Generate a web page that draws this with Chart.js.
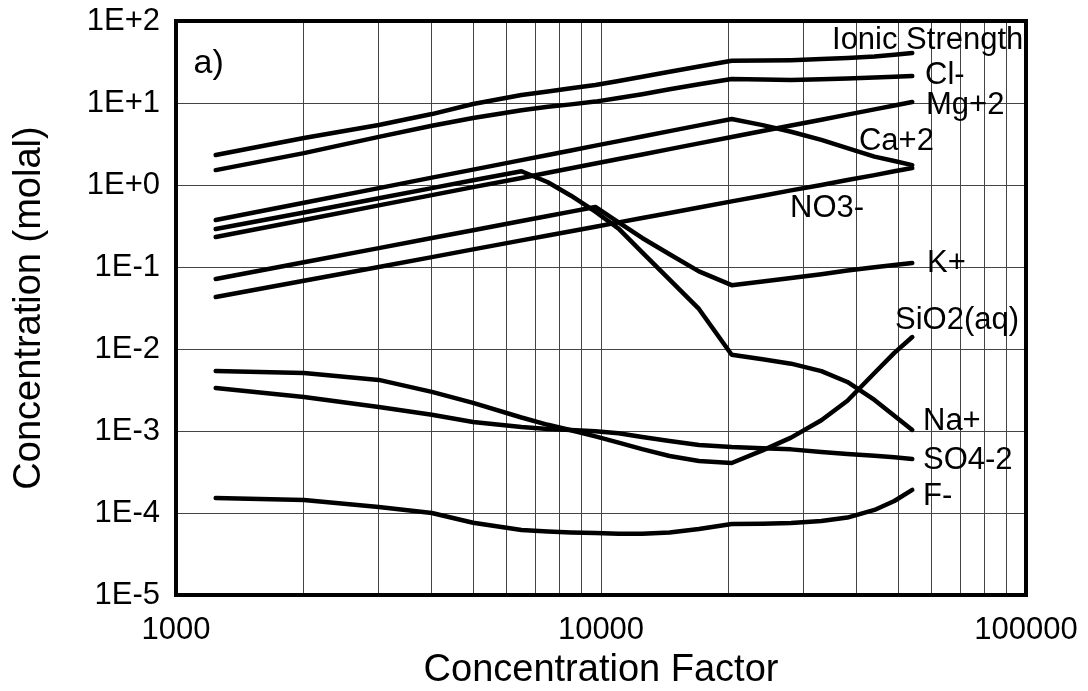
<!DOCTYPE html>
<html>
<head>
<meta charset="utf-8">
<title>Concentration vs Concentration Factor</title>
<script src="https://cdn.jsdelivr.net/npm/chart.js@4.4.1/dist/chart.umd.min.js"></script>
<style>
  html, body { margin: 0; padding: 0; background: #fff; }
  #wrap { width: 1088px; height: 691px; }
</style>
</head>
<body>
<div id="wrap"><canvas id="chart" width="1088" height="691"></canvas></div>
<script>
// concentration factor (x) shared by every curve
const cf = [1240, 2000, 3000, 4000, 5000, 6500, 7500, 8500, 9700, 11000, 12500,
            14500, 17000, 20300, 24000, 28000, 33000, 38000, 44000, 49000, 54000];

// concentrations, molal
const ionic = [2.32, 3.74, 5.40, 7.33, 9.73, 12.5, 13.8, 15.1, 16.6, 18.5, 20.9,
               24.0, 27.8, 32.7, 32.9, 33.3, 34.3, 35.3, 36.9, 38.7, 40.7];
const cl = [1.52, 2.45, 3.86, 5.27, 6.56, 8.18, 8.98, 9.62, 10.4, 11.5, 12.8,
            14.7, 16.9, 19.6, 19.4, 19.1, 19.5, 19.9, 20.4, 20.9, 21.3];
const mg = [0.232, 0.375, 0.564, 0.753, 0.942, 1.22, 1.41, 1.60, 1.83, 2.08, 2.36,
            2.74, 3.22, 3.85, 4.55, 5.31, 6.26, 7.21, 8.36, 9.31, 10.3];
const ca = [0.374, 0.608, 0.916, 1.23, 1.54, 2.01, 2.32, 2.64, 3.02, 3.43, 3.91,
            4.54, 5.34, 6.38, 5.37, 4.46, 3.55, 2.82, 2.22, 1.96, 1.75];
const no3 = [0.043, 0.068, 0.100, 0.132, 0.164, 0.211, 0.242, 0.273, 0.310, 0.350, 0.396,
             0.456, 0.532, 0.631, 0.740, 0.859, 1.00, 1.15, 1.32, 1.47, 1.61];
const k = [0.0715, 0.114, 0.170, 0.226, 0.281, 0.364, 0.419, 0.474, 0.54, 0.350, 0.226,
           0.143, 0.0885, 0.060, 0.0667, 0.0733, 0.0818, 0.0904, 0.0995, 0.106, 0.112];
const na = [0.290, 0.463, 0.690, 0.915, 1.14, 1.47, 1.08, 0.74, 0.472, 0.294, 0.151,
            0.070, 0.0308, 0.0085, 0.00748, 0.00662, 0.00537, 0.00396, 0.00239, 0.00153, 0.00103];
const sio2 = [5.4e-3, 5.1e-3, 4.2e-3, 3.0e-3, 2.2e-3, 1.46e-3, 1.19e-3, 1.02e-3, 8.6e-4, 7.2e-4, 6.0e-4,
              4.95e-4, 4.31e-4, 4.07e-4, 5.8e-4, 8.3e-4, 1.35e-3, 2.34e-3, 5.1e-3, 8.97e-3, 1.40e-2];
const so4 = [3.34e-3, 2.60e-3, 1.96e-3, 1.58e-3, 1.29e-3, 1.12e-3, 1.06e-3, 1.03e-3, 9.9e-4, 9.4e-4, 8.45e-4,
             7.55e-4, 6.75e-4, 6.38e-4, 6.17e-4, 5.97e-4, 5.56e-4, 5.25e-4, 5.0e-4, 4.77e-4, 4.56e-4];
const fl = [1.52e-4, 1.44e-4, 1.18e-4, 1.0e-4, 7.6e-5, 6.2e-5, 5.95e-5, 5.8e-5, 5.7e-5, 5.6e-5, 5.6e-5,
            5.8e-5, 6.38e-5, 7.35e-5, 7.4e-5, 7.55e-5, 7.98e-5, 8.8e-5, 1.09e-4, 1.40e-4, 1.91e-4];

// axis ticks
const xTicks = [1000, 10000, 100000];
const xTickLabels = ["1000", "10000", "100000"];
const yTicks = [1e-5, 1e-4, 1e-3, 1e-2, 1e-1, 1, 10, 100];
const yTickLabels = ["1E-5", "1E-4", "1E-3", "1E-2", "1E-1", "1E+0", "1E+1", "1E+2"];

// curve names, written beside the curves (anchor = left edge / middle, in data units)
const curveNames = ["Ionic Strength", "Cl-", "Mg+2", "Ca+2", "NO3-", "K+", "SiO2(aq)", "Na+", "SO4-2", "F-"];
const nameAnchors = [
  [34960, 58.6], [57870, 21.9], [58180, 9.45], [40460, 3.35], [27850, 0.524],
  [58480, 0.112], [49180, 0.0220], [57230, 1.29e-3], [57230, 4.43e-4], [57230, 1.61e-4]
];
const panelTag = "a)";
const panelAnchor = [1100, 29.9];

const FONT = '"Liberation Sans", Arial, Helvetica, sans-serif';

const series = [ionic, cl, mg, ca, no3, k, na, sio2, so4, fl];

function decadeGrid(lo, hi) {
  const t = [];
  for (let p = lo; p < hi; p *= 10) {
    for (let m = 1; m < 10; m++) t.push(m * p);
  }
  t.push(hi);
  return t;
}

const frameAndNames = {
  id: "frameAndNames",
  afterDraw(chart) {
    const { ctx, chartArea: a, scales } = chart;
    ctx.save();
    ctx.lineWidth = 4;
    ctx.strokeStyle = "#000";
    ctx.strokeRect(a.left, a.top, a.right - a.left, a.bottom - a.top);

    ctx.fillStyle = "#000";
    ctx.font = "31px " + FONT;
    ctx.textAlign = "left";
    ctx.textBaseline = "middle";
    curveNames.forEach((name, i) => {
      const px = scales.x.getPixelForValue(nameAnchors[i][0]);
      const py = scales.y.getPixelForValue(nameAnchors[i][1]);
      ctx.fillText(name, px, py);
    });

    ctx.font = "34px " + FONT;
    ctx.fillText(panelTag, scales.x.getPixelForValue(panelAnchor[0]), scales.y.getPixelForValue(panelAnchor[1]));
    ctx.restore();
  }
};

const ctx = document.getElementById("chart");

new Chart(ctx, {
  type: "line",
  data: {
    datasets: series.map(arr => ({
      data: cf.map((x, i) => ({ x: x, y: arr[i] })),
      borderColor: "#000",
      borderWidth: 4.5,
      borderCapStyle: "round",
      borderJoinStyle: "round",
      pointRadius: 0,
      tension: 0,
      fill: false
    }))
  },
  options: {
    responsive: false,
    animation: false,
    devicePixelRatio: 1,
    layout: { padding: { top: 21, right: 62, left: 0, bottom: 0 } },
    plugins: {
      legend: { display: false },
      tooltip: { enabled: false }
    },
    scales: {
      x: {
        type: "logarithmic",
        min: 1000,
        max: 100000,
        afterFit: s => { s.height = 96; s.paddingLeft = 0; s.paddingRight = 0; },
        afterBuildTicks: s => { s.ticks = decadeGrid(1000, 100000).map(v => ({ value: v })); },
        grid: { color: "#444", lineWidth: 1, drawTicks: false },
        border: { display: false },
        ticks: {
          autoSkip: false,
          maxRotation: 0,
          padding: 17,
          color: "#000",
          font: { family: FONT, size: 31 },
          callback: v => {
            const i = xTicks.indexOf(v);
            return i >= 0 ? xTickLabels[i] : "";
          }
        },
        title: {
          display: true,
          text: "Concentration Factor",
          color: "#000",
          font: { family: FONT, size: 38, lineHeight: 1 },
          padding: { top: 0, bottom: 1 }
        }
      },
      y: {
        type: "logarithmic",
        min: 1e-5,
        max: 100,
        afterFit: s => { s.width = 176; s.paddingTop = 0; s.paddingBottom = 0; },
        afterBuildTicks: s => { s.ticks = yTicks.map(v => ({ value: v })); },
        grid: { color: "#444", lineWidth: 1, drawTicks: false },
        border: { display: false },
        ticks: {
          autoSkip: false,
          padding: 16,
          color: "#000",
          font: { family: FONT, size: 31 },
          callback: v => {
            const i = yTicks.indexOf(v);
            return i >= 0 ? yTickLabels[i] : "";
          }
        },
        title: {
          display: true,
          text: "Concentration (molal)",
          color: "#000",
          font: { family: FONT, size: 38, lineHeight: 1 },
          padding: { top: 11, bottom: 0 }
        }
      }
    }
  },
  plugins: [frameAndNames]
});
</script>
</body>
</html>
